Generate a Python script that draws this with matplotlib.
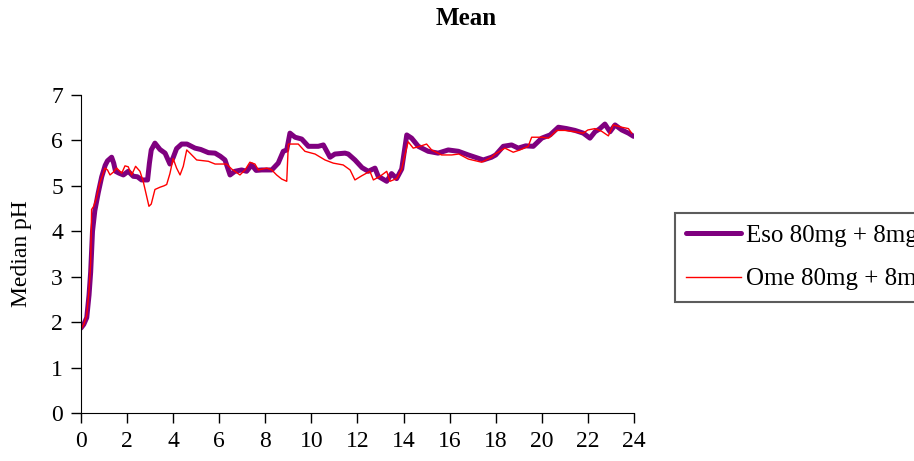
import numpy as np
import matplotlib
matplotlib.use('Agg')
import matplotlib.pyplot as plt

# hours / median pH
eso_t = [0.0, 0.12, 0.25, 0.35, 0.42, 0.5, 0.6, 0.75, 0.9, 1.05, 1.15, 1.33, 1.42, 1.5,
         1.65, 1.84, 2.05, 2.27, 2.45, 2.63, 2.89, 2.97, 3.05, 3.21, 3.43, 3.65, 3.86,
         4.0, 4.15, 4.37, 4.6, 4.95, 5.2, 5.53, 5.82, 6.05, 6.25, 6.47, 6.68, 6.97, 7.19,
         7.41, 7.6, 7.84, 8.28, 8.56, 8.78, 8.93, 9.07, 9.29, 9.58, 9.87, 10.3, 10.52,
         10.81, 11.02, 11.46, 11.6, 11.89, 12.2, 12.47, 12.76, 12.9, 13.27, 13.48, 13.7,
         13.92, 14.14, 14.35, 14.64, 15.07, 15.5, 15.94, 16.38, 16.81, 17.46, 17.82, 18.0,
         18.33, 18.69, 18.98, 19.3, 19.63, 20.0, 20.36, 20.72, 21.08, 21.44, 21.8, 22.09,
         22.31, 22.5, 22.74, 22.96, 23.18, 23.47, 23.76, 23.98]
eso_ph = [1.87, 1.95, 2.1, 2.6, 3.1, 4.0, 4.45, 4.85, 5.2, 5.45, 5.55, 5.63, 5.5, 5.32,
          5.28, 5.24, 5.32, 5.21, 5.2, 5.13, 5.13, 5.5, 5.79, 5.94, 5.8, 5.72, 5.48,
          5.62, 5.82, 5.92, 5.92, 5.83, 5.8, 5.73, 5.72, 5.65, 5.57, 5.24, 5.32, 5.35, 5.32,
          5.46, 5.34, 5.35, 5.35, 5.5, 5.76, 5.79, 6.16, 6.07, 6.03, 5.87, 5.87, 5.9,
          5.63, 5.7, 5.72, 5.7, 5.57, 5.4, 5.32, 5.39, 5.21, 5.1, 5.27, 5.16,
          5.37, 6.12, 6.05, 5.87, 5.76, 5.72, 5.79, 5.76, 5.68, 5.57, 5.63, 5.68,
          5.87, 5.9, 5.83, 5.88, 5.87, 6.05, 6.12, 6.29, 6.26, 6.22, 6.16, 6.05,
          6.19, 6.25, 6.36, 6.19, 6.34, 6.23, 6.16, 6.09]

ome_t = [0.0, 0.12, 0.25, 0.35, 0.42, 0.46, 0.55, 0.68, 0.82, 0.95, 1.04, 1.15, 1.26, 1.4,
         1.55, 1.77, 1.91, 2.05, 2.2, 2.37, 2.56, 2.7, 2.85, 2.95, 3.05, 3.21, 3.43, 3.6,
         3.72, 3.86, 4.0, 4.15, 4.3, 4.44, 4.59, 4.73, 5.02, 5.53, 5.82, 6.32, 6.54, 6.9,
         7.12, 7.33, 7.55, 7.7, 8.06, 8.28, 8.49, 8.71, 8.93, 9.0, 9.43, 9.72, 10.16,
         10.59, 10.95, 11.38, 11.68, 11.89, 12.18, 12.54, 12.69, 12.98, 13.27, 13.41, 13.7,
         13.92, 14.06, 14.2, 14.42, 14.71, 15.0, 15.22, 15.65, 16.09, 16.4, 16.81, 17.39,
         17.82, 17.97, 18.4, 18.76, 19.05, 19.41, 19.56, 20.0, 20.3, 20.65, 21.0, 21.44,
         21.8, 22.0, 22.31, 22.6, 22.89, 23.1, 23.47, 23.76, 23.9]
ome_ph = [1.85, 1.95, 2.15, 2.7, 3.3, 4.48, 4.55, 4.75, 5.07, 5.25, 5.39, 5.35, 5.24, 5.3,
          5.39, 5.28, 5.44, 5.42, 5.24, 5.43, 5.32, 5.1, 4.77, 4.55, 4.6, 4.92, 4.97, 5.0,
          5.03, 5.27, 5.6, 5.39, 5.24, 5.43, 5.79, 5.72, 5.57, 5.54, 5.48, 5.48, 5.37, 5.24,
          5.35, 5.52, 5.48, 5.35, 5.39, 5.35, 5.24, 5.15, 5.1, 5.92, 5.92, 5.76, 5.7,
          5.57, 5.5, 5.46, 5.35, 5.13, 5.22, 5.32, 5.13, 5.21, 5.32, 5.1, 5.16,
          5.37, 5.68, 5.97, 5.83, 5.87, 5.92, 5.79, 5.68, 5.68, 5.7, 5.59, 5.52,
          5.63, 5.7, 5.83, 5.74, 5.79, 5.87, 6.07, 6.07, 6.05, 6.22, 6.22, 6.19,
          6.16, 6.23, 6.26, 6.2, 6.1, 6.34, 6.29, 6.26, 6.16]

labels = ['Eso 80mg + 8mg/h', 'Ome 80mg + 8mg/h']
xticks = list(range(0, 25, 2))
yticks = list(range(0, 8))

plt.rcParams['font.family'] = ['Liberation Serif', 'DejaVu Serif']

fig = plt.figure(figsize=(9.14, 4.61), dpi=100)
ax = fig.add_axes([0.0886, 0.104, 0.605, 0.690])

ax.plot(eso_t, eso_ph, color='#7f007f', lw=3.6, label=labels[0], solid_capstyle='round')
ax.plot(ome_t, ome_ph, color='#ff0000', lw=1.0, label=labels[1])

ax.set_xlim(0, 24)
ax.set_ylim(0, 7)
ax.set_xticks(xticks)
ax.set_yticks(yticks)
ax.tick_params(direction='out', length=7, width=1, labelsize=17, pad=6)
ax.spines['top'].set_visible(False)
ax.spines['right'].set_visible(False)
ax.set_ylabel('Median pH', fontsize=17, labelpad=14)

fig.text(0.51, 0.960, 'Mean', ha='center', va='center', fontsize=18, fontweight='bold')

# legend runs off the right edge, as in the original
leg = fig.legend(loc='upper left', bbox_to_anchor=(675 / 914, 1 - 213 / 461),
                 fontsize=18, frameon=True, fancybox=False, edgecolor='#333333',
                 handlelength=2.2, handletextpad=0.2, labelspacing=0.85,
                 borderpad=0.45, borderaxespad=0)
leg.get_frame().set_linewidth(1.5)

plt.savefig('out.png', dpi=100)
